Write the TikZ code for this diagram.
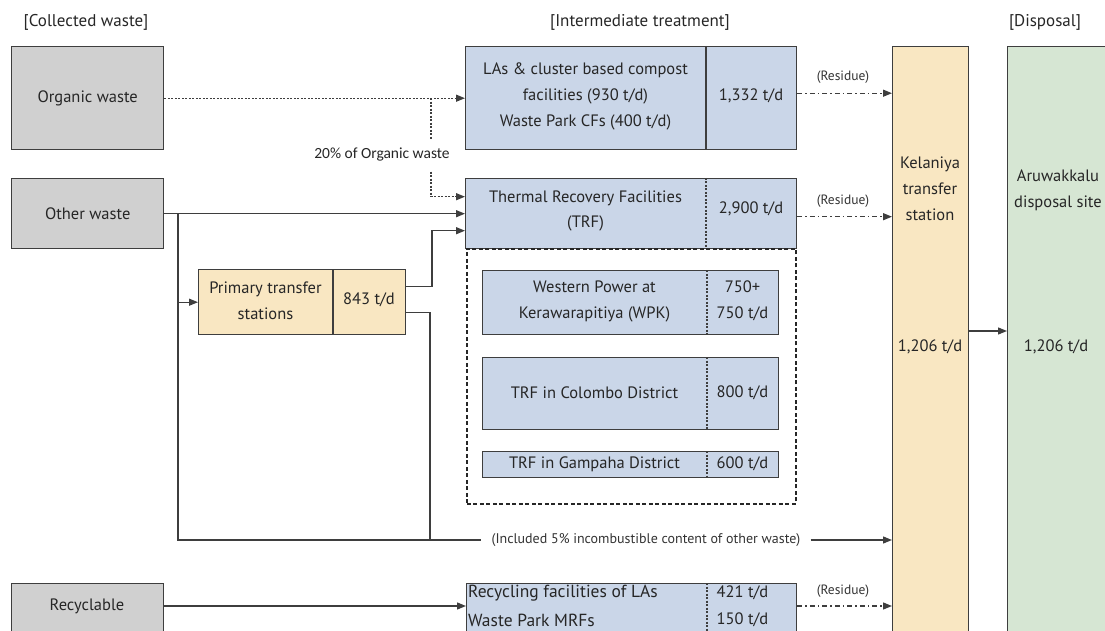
\documentclass[tikz,border=0pt]{standalone}
\usepackage{fontspec}
\setmainfont{PT Sans}
\newfontfamily\notefont{Carlito}
\usetikzlibrary{arrows.meta}

\definecolor{edge}{RGB}{62,62,62}
\definecolor{boxgray}{RGB}{208,208,208}
\definecolor{boxblue}{RGB}{202,214,232}
\definecolor{boxyellow}{RGB}{249,231,194}
\definecolor{boxgreen}{RGB}{214,230,211}

\begin{document}
\begin{tikzpicture}[x=1pt,y=-1pt,
  box/.style={draw=edge, line width=1.4pt, anchor=north west, inner sep=0pt},
  graybox/.style={box, fill=boxgray},
  bluebox/.style={box, fill=boxblue},
  yellowbox/.style={box, fill=boxyellow},
  greenbox/.style={box, fill=boxgreen},
  txt/.style={font=\fontsize{16.5}{26}\selectfont, align=center, inner sep=0pt, text=black!85},
  title/.style={font=\fontsize{17}{18}\selectfont, inner sep=0pt, text=black!85},
  small/.style={font=\fontsize{13.5}{15}\selectfont, inner sep=0pt, text=black!80},
  flow/.style={draw=edge, line width=1.3pt},
  arr/.style={flow, -{Triangle[length=9pt,width=7pt]}},
  dotarr/.style={arr, dash pattern=on 2pt off 1.5pt},
  residue/.style={arr, dash pattern=on 5pt off 3pt on 1.5pt off 3pt},
  divsolid/.style={draw=edge, line width=1.3pt},
  divdot/.style={draw=edge, line width=1.3pt, dash pattern=on 2pt off 1.5pt}
]
\useasboundingbox (0,0) rectangle (1105,631);
\clip (0,0) rectangle (1105,631);

% column headings
\node[title] (hcol) at (86,22) {[Collected waste]};
\node[title] (hint) at (640,22) {[Intermediate treatment]};
\node[title] (hdis) at (1045,22) {[Disposal]};

% collected waste
\node[graybox, minimum width=152pt, minimum height=103pt] (org) at (11,46) {};
\node[txt] (orgt) at (org.center) {Organic waste};
\node[graybox, minimum width=152pt, minimum height=70pt] (oth) at (11,178) {};
\node[txt] (otht) at (oth.center) {Other waste};
\node[graybox, minimum width=152pt, minimum height=70pt] (rec) at (11,583) {};
\node[txt] (rect) at (87,606) {Recyclable};

% composting
\node[bluebox, minimum width=331pt, minimum height=103pt] (comp) at (465,46) {};
\draw[divsolid] (706,46) -- (706,149);
\node[txt] (compt) at (585.5,96) {LAs \& cluster based compost\\facilities (930 t/d)\\Waste Park CFs (400 t/d)};
\node[txt] (compn) at (751,96) {1,332 t/d};

% thermal recovery
\node[bluebox, minimum width=331pt, minimum height=70pt] (trf) at (465,178) {};
\draw[divdot] (706,178) -- (706,248);
\node[txt, font=\fontsize{16.5}{25}\selectfont] (trft) at (585.5,211) {Thermal Recovery Facilities\\(TRF)};
\node[txt] (trfn) at (751,209) {2,900 t/d};

% individual plants
\node[draw=black!85, line width=1.6pt, dash pattern=on 4pt off 2.5pt, anchor=north west, inner sep=0pt,
      minimum width=329pt, minimum height=255pt] (trfgrp) at (466,248) {};
\node[bluebox, minimum width=296pt, minimum height=64pt] (wpk) at (482,270) {};
\draw[divdot] (707,270) -- (707,334);
\node[txt] (wpkt) at (594.5,301) {Western Power at\\Kerawarapitiya (WPK)};
\node[txt] (wpkn) at (742.5,301) {750+\\750 t/d};
\node[bluebox, minimum width=296pt, minimum height=72pt] (col) at (482,357) {};
\draw[divdot] (707,357) -- (707,429);
\node[txt] (colt) at (594.5,393) {TRF in Colombo District};
\node[txt] (coln) at (742.5,393) {800 t/d};
\node[bluebox, minimum width=296pt, minimum height=26pt] (gam) at (482,451) {};
\draw[divdot] (707,451) -- (707,477);
\node[txt] (gamt) at (594.5,464) {TRF in Gampaha District};
\node[txt] (gamn) at (742.5,464) {600 t/d};

% recycling
\node[bluebox, minimum width=330pt, minimum height=70pt] (recf) at (466,583) {};
\draw[divdot] (707,583) -- (707,653);
\node[txt, font=\fontsize{17.5}{20}\selectfont, anchor=west] (recf1) at (468,593) {Recycling facilities of LAs};
\node[txt, font=\fontsize{17.5}{20}\selectfont, anchor=west] (recf2) at (468,620) {Waste Park MRFs};
\node[txt] (recn1) at (742.5,593) {421 t/d};
\node[txt] (recn2) at (742.5,620) {150 t/d};

% primary transfer stations
\node[yellowbox, minimum width=207pt, minimum height=65pt] (pts) at (198,269) {};
\draw[divsolid] (333,269) -- (333,334);
\node[txt] (ptst) at (265.5,301) {Primary transfer\\stations};
\node[txt] (ptsn) at (369,300) {843 t/d};

% transfer station and disposal site
\node[yellowbox, minimum width=76pt, minimum height=620pt] (kel) at (892,46) {};
\node[txt] (kelt) at (930,189) {Kelaniya\\transfer\\station};
\node[txt] (keln) at (930,347) {1,206 t/d};
\node[greenbox, minimum width=104pt, minimum height=620pt] (aru) at (1007,46) {};
\node[txt] (arut) at (1058,190) {Aruwakkalu\\disposal site};
\node[txt] (arun) at (1056,347) {1,206 t/d};

% helper coordinates
\coordinate (br20) at (431,0);
\coordinate (bx) at (178,0);
\coordinate (pup) at (432,0);
\coordinate (pdn) at (430,0);
\coordinate (k2a) at (0,331);
\coordinate (tin1) at ([yshift=17pt]trf.west);
\coordinate (tin3) at ([yshift=-17pt]trf.west);
\coordinate (compout) at ([yshift=5pt]comp.east);
\coordinate (trfout) at ([yshift=-3pt]trf.east);

% organic waste flows
\draw[dotarr] (org.east) -- (comp.west);
\draw[dotarr] (org.east -| br20) |- (tin1);
\node[font=\notefont\fontsize{15.5}{17}\selectfont, fill=white, inner xsep=2pt, inner ysep=9pt, text=black!85] (lab20) at (382,155) {20\% of Organic waste};

% other waste flows
\draw[arr] (oth.east) -- (trf.west);
\node[small, font=\fontsize{14}{16}\selectfont, inner xsep=10pt] (incl) at (646,540) {(Included 5\% incombustible content of other waste)};
\draw[flow] (oth.east -| bx) |- (incl.west);
\draw[arr] (incl.east) -- (kel.west |- incl);
\draw[arr] (bx |- pts.west) -- (pts.west);
\draw[arr] ([yshift=15.5pt]pts.east) -| (pup |- tin3) -- (tin3);
\draw[flow] ([yshift=-10.5pt]pts.east) -| (pdn |- incl);

% recyclables
\draw[arr] (rec.east |- rect) -- (recf.west |- rect);

% residues
\draw[residue] (compout) -- (kel.west |- compout);
\node[small] (res1) at (843,77) {(Residue)};
\draw[residue] (trfout) -- (kel.west |- trfout);
\node[small] (res2) at (843,201) {(Residue)};
\draw[residue] (recf.east |- rect) -- (kel.west |- rect);
\node[small] (res3) at (843,591) {(Residue)};

% to final disposal
\draw[arr] (kel.east |- k2a) -- (aru.west |- k2a);
\end{tikzpicture}
\end{document}
